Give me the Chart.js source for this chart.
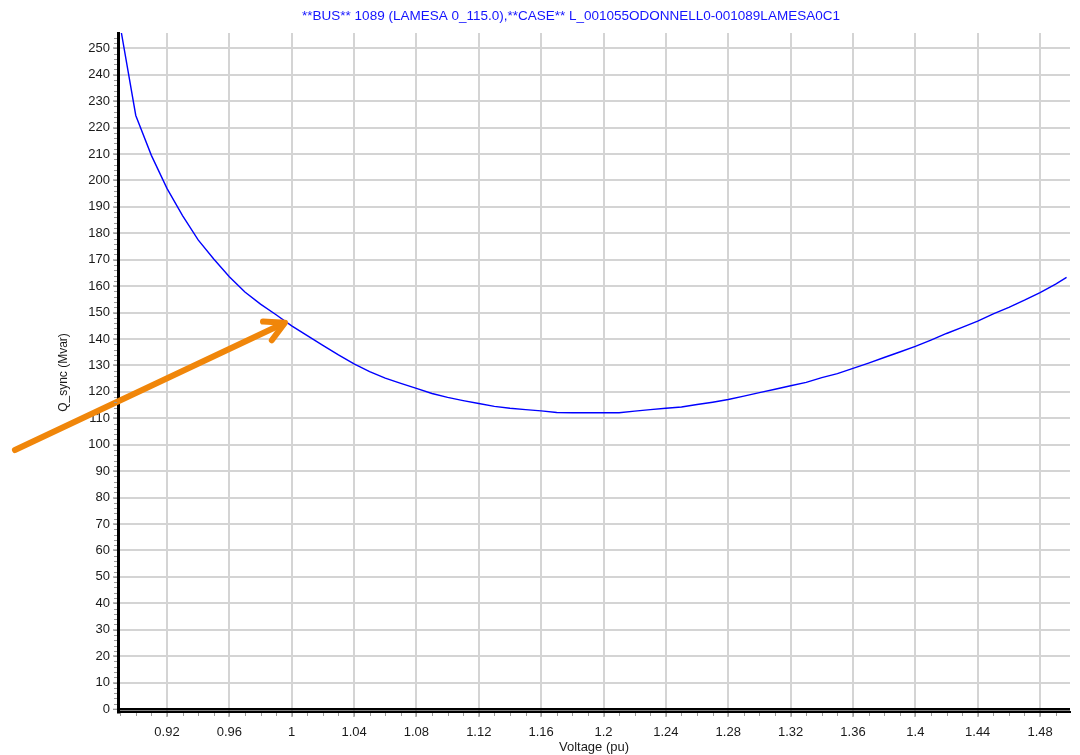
<!DOCTYPE html>
<html><head><meta charset="utf-8">
<script src="https://cdn.jsdelivr.net/npm/chart.js@4.4.1/dist/chart.umd.min.js"></script>
<style>html,body{margin:0;padding:0;background:#fff;} canvas{display:block;}</style>
</head><body>
<canvas id="c" width="1080" height="755"></canvas>
<script>
const chartTitle = '**BUS** 1089 (LAMESA 0_115.0),**CASE** L_001055ODONNELL0-001089LAMESA0C1';
const xAxisTitle = 'Voltage (pu)';
const yAxisTitle = 'Q_sync (Mvar)';

const voltage = [0.89,0.90,0.91,0.92,0.93,0.94,0.95,0.96,0.97,0.98,0.99,
  1.00,1.01,1.02,1.03,1.04,1.05,1.06,1.07,1.08,1.09,1.10,1.11,1.12,1.13,1.14,1.15,1.16,1.17,1.18,1.19,
  1.20,1.21,1.22,1.23,1.24,1.25,1.26,1.27,1.28,1.29,1.30,1.31,1.32,1.33,1.34,1.35,1.36,1.37,1.38,1.39,
  1.40,1.41,1.42,1.43,1.44,1.45,1.46,1.47,1.48,1.49,1.497];
const qSync = [258.5,224.6,209.5,197.0,186.7,177.5,170.3,163.6,157.8,153.2,149.2,
  145.0,141.3,137.6,134.0,130.6,127.7,125.2,123.2,121.3,119.4,117.9,116.7,115.6,114.5,113.8,113.3,112.8,112.2,112.1,112.1,
  112.1,112.1,112.7,113.3,113.8,114.3,115.2,116.1,117.1,118.4,119.7,121.0,122.3,123.6,125.4,126.9,128.9,130.9,133.0,135.1,
  137.2,139.6,142.1,144.4,146.8,149.5,152.0,154.7,157.6,160.8,163.3];

const xTickValues = [0.92,0.96,1,1.04,1.08,1.12,1.16,1.2,1.24,1.28,1.32,1.36,1.4,1.44,1.48];
const yTickValues = [0,10,20,30,40,50,60,70,80,90,100,110,120,130,140,150,160,170,180,190,200,210,220,230,240,250];
const xMinorStep = 0.01;
const yMinorStep = 2;
const xRange = [0.8886, 1.4992];
const yRange = [-1.135, 255.8];

// annotation arrow (in data units)
const arrowTail = {x: 0.8225, y: 98};
const arrowTip = {x: 0.9957, y: 146.2};

const FONT = "'Liberation Sans', Arial, sans-serif";

const titlePlugin = {
  id: 'topTitle',
  afterDraw(chart) {
    const ctx = chart.ctx;
    ctx.save();
    ctx.font = '13.5px ' + FONT;
    ctx.fillStyle = '#1414ff';
    ctx.textAlign = 'center';
    ctx.textBaseline = 'middle';
    ctx.fillText(chartTitle, 571, 16);
    ctx.restore();
  }
};

const minorTicksPlugin = {
  id: 'minorTicks',
  afterDraw(chart) {
    const ctx = chart.ctx;
    const xs = chart.scales.x, ys = chart.scales.y;
    const area = chart.chartArea;
    ctx.save();
    ctx.strokeStyle = '#9a9a9a';
    ctx.lineWidth = 1;
    ctx.beginPath();
    for (let v = Math.ceil(xRange[0] / xMinorStep) * xMinorStep; v <= xRange[1]; v += xMinorStep) {
      const px = Math.round(xs.getPixelForValue(v)) + 0.5;
      ctx.moveTo(px, area.bottom + 1);
      ctx.lineTo(px, area.bottom + 4);
    }
    for (let v = 0; v <= yRange[1]; v += yMinorStep) {
      const py = Math.round(ys.getPixelForValue(v)) + 0.5;
      ctx.moveTo(area.left - 4, py);
      ctx.lineTo(area.left - 1, py);
    }
    ctx.stroke();
    ctx.restore();
  }
};

const arrowPlugin = {
  id: 'arrow',
  afterDatasetsDraw(chart) {
    const ctx = chart.ctx;
    const xs = chart.scales.x, ys = chart.scales.y;
    const x1 = xs.getPixelForValue(arrowTail.x), y1 = ys.getPixelForValue(arrowTail.y);
    const x2 = xs.getPixelForValue(arrowTip.x), y2 = ys.getPixelForValue(arrowTip.y);
    const ang = Math.atan2(y1 - y2, x1 - x2);
    const len = 22, spread = 28 * Math.PI / 180;
    ctx.save();
    ctx.strokeStyle = '#f0860a';
    ctx.lineWidth = 6;
    ctx.lineCap = 'round';
    ctx.lineJoin = 'round';
    ctx.beginPath();
    ctx.moveTo(x1, y1);
    ctx.lineTo(x2 - 3 * Math.cos(ang + Math.PI), y2 - 3 * Math.sin(ang + Math.PI));
    ctx.stroke();
    ctx.beginPath();
    ctx.moveTo(x2 + len * Math.cos(ang + spread), y2 + len * Math.sin(ang + spread));
    ctx.lineTo(x2, y2);
    ctx.lineTo(x2 + len * Math.cos(ang - spread), y2 + len * Math.sin(ang - spread));
    ctx.stroke();
    ctx.restore();
  }
};

const points = voltage.map((v, i) => ({x: v, y: qSync[i]}));

new Chart(document.getElementById('c'), {
  type: 'line',
  data: {
    datasets: [{
      data: points,
      borderColor: '#0000ff',
      borderWidth: 1.4,
      pointRadius: 0,
      tension: 0,
      fill: false
    }]
  },
  options: {
    responsive: false,
    animation: false,
    devicePixelRatio: 1,
    layout: {padding: {left: 0, right: 10, top: 33, bottom: 0}},
    plugins: {legend: {display: false}, tooltip: {enabled: false}, title: {display: false}},
    scales: {
      x: {
        type: 'linear',
        min: xRange[0],
        max: xRange[1],
        afterBuildTicks(scale) { scale.ticks = xTickValues.map(v => ({value: v})); },
        afterFit(scale) { scale.height = 43; },
        ticks: {
          autoSkip: false,
          maxRotation: 0,
          padding: 8,
          color: '#1a1a1a',
          font: {family: FONT, size: 13},
          callback: (v) => String(+(+v).toFixed(2))
        },
        grid: {
          color: '#d4d4d4',
          lineWidth: 2,
          tickLength: 5,
          tickColor: '#777',
          tickWidth: 1
        },
        border: {display: true, color: '#000', width: 2},
        title: {
          display: true,
          text: xAxisTitle,
          color: '#1a1a1a',
          font: {family: FONT, size: 13},
          padding: {top: 0, bottom: 0}
        }
      },
      y: {
        type: 'linear',
        min: yRange[0],
        max: yRange[1],
        afterBuildTicks(scale) { scale.ticks = yTickValues.map(v => ({value: v})); },
        afterFit(scale) { scale.width = 118; },
        ticks: {
          autoSkip: false,
          padding: 3,
          color: '#1a1a1a',
          font: {family: FONT, size: 13},
          callback: (v) => String(v)
        },
        grid: {
          color: (c) => (c.tick && c.tick.value === 0) ? '#000' : '#d4d4d4',
          lineWidth: (c) => (c.tick && c.tick.value === 0) ? 2.5 : 2,
          tickLength: 5,
          tickColor: '#777',
          tickWidth: 1
        },
        border: {display: true, color: '#000', width: 3},
        title: {
          display: true,
          text: yAxisTitle,
          color: '#1a1a1a',
          font: {family: FONT, size: 12},
          padding: {top: 56, bottom: 0}
        }
      }
    }
  },
  plugins: [titlePlugin, minorTicksPlugin, arrowPlugin]
});
</script>
</body></html>
